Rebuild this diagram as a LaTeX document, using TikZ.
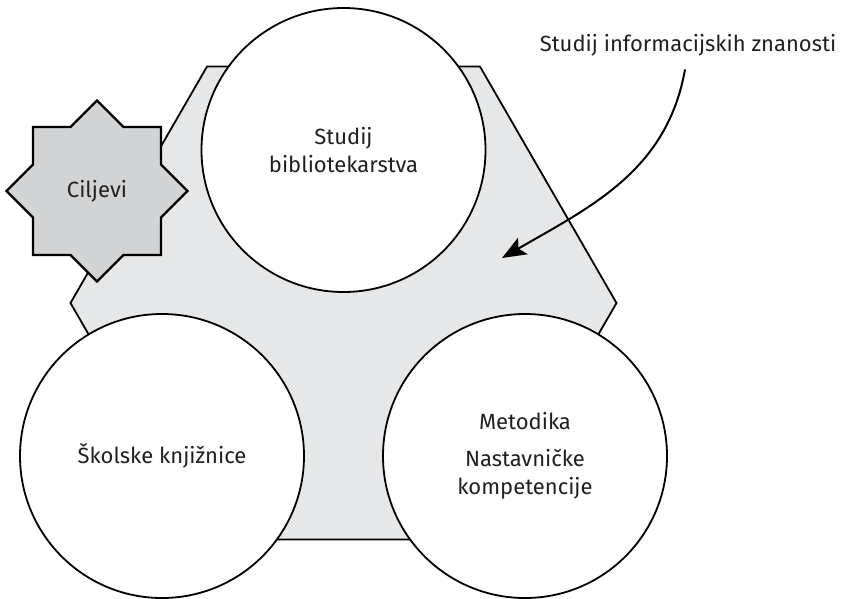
\documentclass[tikz,border=0pt]{standalone}
\usepackage{fontspec}
\setmainfont{Fira Sans}
\usepackage{tikz}
\usetikzlibrary{shapes, arrows.meta, positioning}
\definecolor{hexgray}{HTML}{E6E7E8}
\definecolor{stargray}{HTML}{D1D3D4}
\definecolor{inkgray}{HTML}{231F20}
\tikzstyle{field} = [regular polygon, regular polygon sides=6, minimum size=546pt, inner sep=0pt, draw=black, fill=hexgray, line width=1.8pt]
\tikzstyle{topic} = [circle, minimum size=284pt, inner sep=0pt, align=center, draw=black, fill=white, line width=1.8pt, text=inkgray, font=\fontsize{22}{28}\selectfont]
\tikzstyle{goal} = [star, star points=8, star point ratio=1.307, minimum size=181pt, inner sep=0pt, draw=black, fill=stargray, line width=2.2pt, text=inkgray, font=\fontsize{22}{28}\selectfont]

\begin{document}
\begin{tikzpicture}[node distance=153pt]
\useasboundingbox (0pt,0pt) rectangle (844pt,-598pt);
\node (hex) [field] at (343.5pt,-303pt) {};
\node (goals) [goal] at (97pt,-191pt) {Ciljevi};
\node (library) [topic, above of=hex] {Studij\\bibliotekarstva};
\node (school) [topic, below of=hex, xshift=-181.5pt] {Školske knjižnice};
\node (method) [topic, below of=hex, xshift=181.5pt] {Metodika\\[9pt]Nastavničke\\kompetencije};
\node (info) [text=inkgray, font=\fontsize{22}{28}\selectfont] at (688pt,-45pt) {Studij informacijskih znanosti};
\coordinate (tip) at (502pt,-258pt);
\draw [line width=2pt, -{Stealth[length=24pt, width=19pt, inset=5pt]}] ([xshift=-3pt, yshift=-10pt]info.south) to [out=-100, in=30] (tip);
\end{tikzpicture}
\end{document}
